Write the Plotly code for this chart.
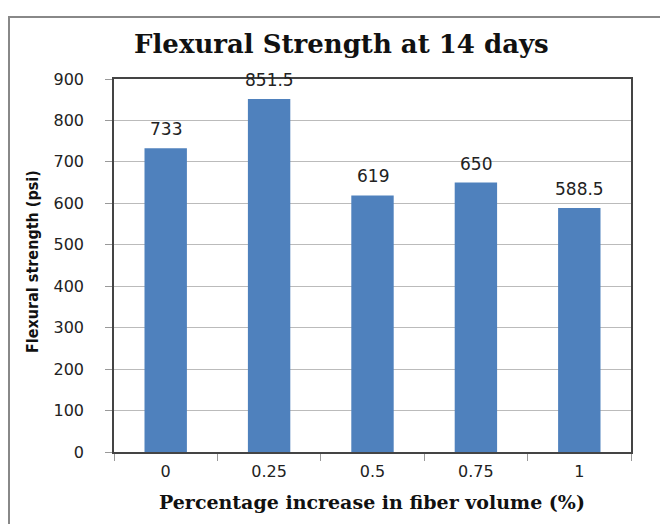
import plotly.graph_objects as go

categories = ["0", "0.25", "0.5", "0.75", "1"]
values = [733, 851.5, 619, 650, 588.5]
labels = ["733", "851.5", "619", "650", "588.5"]
y_ticks = [0, 100, 200, 300, 400, 500, 600, 700, 800, 900]

fig = go.Figure(go.Bar(
    x=categories, y=values,
    marker=dict(color="#4F81BD", line=dict(width=0)),
    cliponaxis=False, width=0.41,
))

# page body has an 8px margin; work in screenshot pixels and subtract it
OFF = 8
W, H = 668 - OFF, 524 - OFF
L, R, T, B = 114 - OFF, 631 - OFF, 79 - OFF, 452 - OFF
PW, PH = R - L, B - T

def px_x(x):
    return (x - OFF - L) / PW

def px_y(y):
    return (B - (y - OFF)) / PH

annotations = []
for i, (v, t) in enumerate(zip(values, labels)):
    annotations.append(dict(
        x=i, y=v, xref="x", yref="y", text=t, showarrow=False,
        yanchor="middle", yshift=19,
        font=dict(family="DejaVu Sans", size=17, color="#222"),
    ))

annotations.append(dict(
    text="<b>Flexural Strength at 14 days</b>", x=px_x(341), y=px_y(44),
    xref="paper", yref="paper", xanchor="center", yanchor="middle",
    showarrow=False, font=dict(family="DejaVu Serif", size=26, color="#111"),
))
annotations.append(dict(
    text="<b>Percentage increase in fiber volume (%)</b>", x=px_x(372), y=px_y(502),
    xref="paper", yref="paper", xanchor="center", yanchor="middle",
    showarrow=False, font=dict(family="DejaVu Serif", size=19, color="#111"),
))
annotations.append(dict(
    text="<b>Flexural strength (psi)</b>", x=px_x(32), y=px_y(262),
    xref="paper", yref="paper", xanchor="center", yanchor="middle", textangle=-90,
    showarrow=False,
    font=dict(family="Liberation Sans Narrow, DejaVu Sans Condensed", size=16, color="#111"),
))

fig.update_layout(
    width=W, height=H,
    margin=dict(l=L, r=W - R, t=T, b=H - B, autoexpand=False),
    paper_bgcolor="white", plot_bgcolor="white",
    showlegend=False,
    font=dict(family="DejaVu Sans", color="#222"),
    xaxis=dict(
        type="category", tickson="boundaries", ticks="outside", ticklen=7,
        tickcolor="#999", showline=True, linecolor="#444", linewidth=1.5, mirror=True,
        showgrid=False, tickfont=dict(size=16, color="#222"), automargin=False,
        ticklabelstandoff=4,
    ),
    yaxis=dict(
        range=[0, 900], tickvals=y_ticks, ticks="outside", ticklen=7, tickcolor="#999",
        showline=True, linecolor="#444", linewidth=1.5, mirror=True,
        showgrid=True, gridcolor="#BBBBBB", gridwidth=1.2,
        tickfont=dict(size=16, color="#222"), zeroline=False, automargin=False,
        ticklabelstandoff=18,
    ),
    annotations=annotations,
    shapes=[dict(
        type="rect", xref="paper", yref="paper",
        x0=px_x(9), y0=px_y(560), x1=px_x(700), y1=px_y(17),
        line=dict(color="#888", width=2), fillcolor="rgba(0,0,0,0)", layer="below",
    )],
)

fig.write_html("out.html")
